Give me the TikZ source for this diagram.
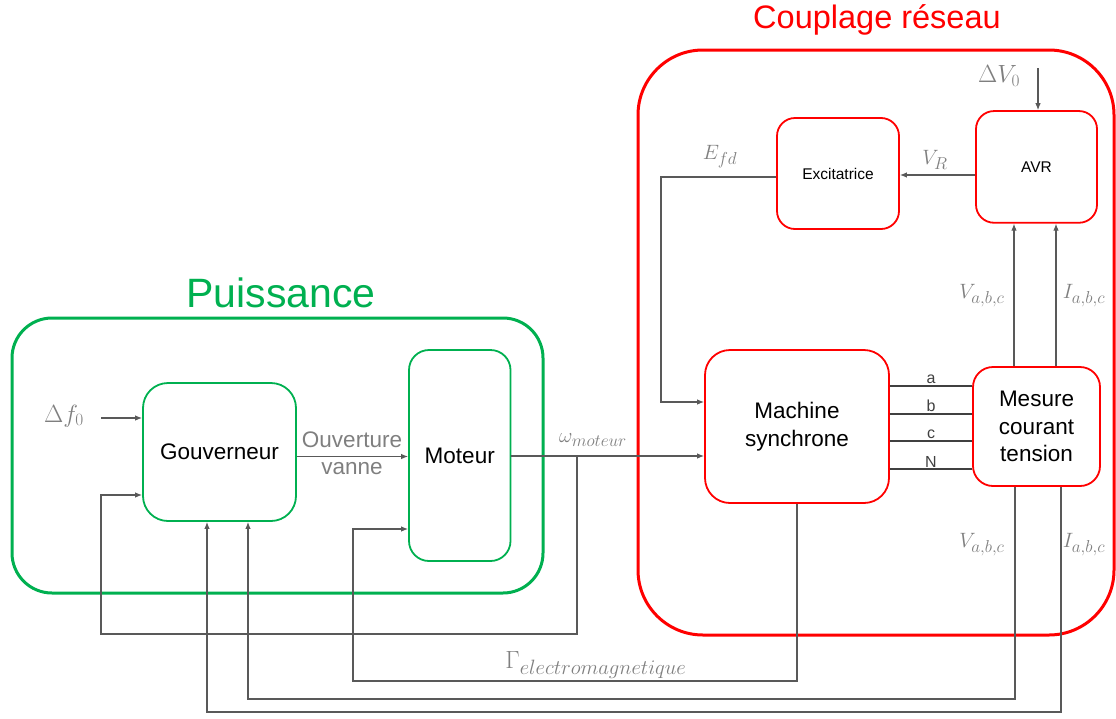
\documentclass[tikz,border=0pt]{standalone}
\usepackage{fontspec}
\setmainfont{Liberation Sans}
\usetikzlibrary{arrows.meta}
\DeclareMathSizes{21}{21}{17}{13}
\DeclareMathSizes{24}{24}{19.5}{15}
\DeclareMathSizes{26}{26}{19}{14}
\definecolor{pgreen}{HTML}{00B050}
\definecolor{pred}{HTML}{FF0000}
\definecolor{conncol}{HTML}{595959}
\definecolor{labcol}{HTML}{7F7F7F}
\tikzset{
  blk/.style={rectangle, inner sep=0pt, align=center, text=black,
    font=\fontsize{22.5}{27.5}\selectfont},
  gblk/.style={blk, draw=pgreen, line width=1.8pt},
  rblk/.style={blk, draw=pred, line width=1.8pt},
  smallblk/.style={font=\fontsize{15.5}{18}\selectfont},
  grp/.style={rectangle, inner sep=0pt, line width=3pt},
  conn/.style={draw=conncol, line width=1.1pt},
  arr/.style={conn, -{Latex[length=7pt,width=5.5pt]}},
  bus/.style={draw=black!75, line width=2pt},
  buslab/.style={midway, above=1pt, inner sep=0pt, text=black!75,
    font=\fontsize{16}{18}\selectfont},
  ml/.style={text=labcol, inner sep=0pt, font=\fontsize{21}{25}\selectfont},
  mlbig/.style={ml, font=\fontsize{26}{30}\selectfont},
  mlg/.style={ml, font=\fontsize{24}{28}\selectfont},
  tl/.style={text=labcol, inner sep=0pt, align=center,
    font=\fontsize{22.5}{27.5}\selectfont},
}
\begin{document}
\begin{tikzpicture}[x=1pt,y=-1pt]
\useasboundingbox (0,0) rectangle (1116,718);

% group frames
\node[grp, draw=pgreen, rounded corners=40pt, minimum width=531pt, minimum height=275pt] (pgrp) at (277.5,455.5) {};
\node[grp, draw=pred, rounded corners=65pt, minimum width=476pt, minimum height=585pt] (rgrp) at (876,342.5) {};

% titles
\node[anchor=base, inner sep=0pt, text=pgreen, font=\fontsize{41}{49}\selectfont] (tp) at (281,307) {Puissance};
\node[anchor=base, inner sep=0pt, text=pred, font=\fontsize{32.5}{39}\selectfont] (tc) at (877,28) {Couplage réseau};

% blocks
\node[gblk, rounded corners=25pt, minimum width=153pt, minimum height=138pt] (gouv) at (219.5,452) {Gouverneur};
\node[gblk, rounded corners=20pt, minimum width=101.5pt, minimum height=211pt] (moteur) at (459.75,455.5) {Moteur};
\node[rblk, smallblk, rounded corners=18pt, minimum width=122pt, minimum height=111pt] (exc) at (838,173.5) {Excitatrice};
\node[rblk, smallblk, rounded corners=18pt, minimum width=121pt, minimum height=111.7pt] (avr) at (1036.5,166.9) {AVR};
\node[rblk, rounded corners=25pt, minimum width=184pt, minimum height=153pt] (mach) at (797,426.5) {Machine\\synchrone};
\node[rblk, rounded corners=20pt, minimum width=127pt, minimum height=119pt] (mes) at (1036.5,426.5) {Mesure\\courant\\tension};

% helper coordinates
\coordinate (dfin) at (101,418);
\coordinate (oy) at (0,456.5);
\coordinate (wy) at (0,456);
\coordinate (wb) at (577,456);
\coordinate (wl) at (101,634);
\coordinate (g2) at (0,495);
\coordinate (gl) at (353,681);
\coordinate (m2) at (0,529);
\coordinate (vx) at (1015,0);
\coordinate (vl) at (248,699);
\coordinate (ix) at (1061,0);
\coordinate (il) at (207,712);
\coordinate (vux) at (1014,0);
\coordinate (iux) at (1056,0);
\coordinate (dv) at (1038,68);
\coordinate (vr) at (0,175);
\coordinate (ef) at (661,177);
\coordinate (m1) at (0,402);
\coordinate (ya) at (0,386);
\coordinate (yb) at (0,414);
\coordinate (yc) at (0,441);
\coordinate (yn) at (0,469);

% labels
\node[mlbig] (df) at (64,416) {$\Delta f_0$};
\node[tl] (ouv) at (352,440) {Ouverture};
\node[tl] (van) at (352,469) {vanne};
\node[ml] (wm) at (593,440) {$\omega_{moteur}$};
\node[mlg] (gam) at (596,665) {$\Gamma_{electromagnetique}$};
\node[mlbig] (dv0) at (999,76) {$\Delta V_0$};
\node[ml] (efd) at (720,157) {$E_{fd}$};
\node[ml] (vrl) at (935,160) {$V_R$};
\node[ml] (vu) at (982,296) {$V_{a,b,c}$};
\node[ml] (iu) at (1084,296) {$I_{a,b,c}$};
\node[ml] (vd) at (982,545) {$V_{a,b,c}$};
\node[ml] (id) at (1084,545) {$I_{a,b,c}$};

% connectors
\draw[arr] (dfin) -- (dfin -| gouv.west);
\draw[arr] (gouv.east |- oy) -- (moteur.west |- oy);
\draw[arr] (moteur.east |- wy) -- (mach.west |- wy);
\draw[arr] (wb) |- (wl) -- (wl |- g2) -- (gouv.west |- g2);
\draw[arr] (mach.south) |- (gl) -- (gl |- m2) -- (moteur.west |- m2);
\draw[arr] (mes.south -| vx) |- (vl) -- (vl |- gouv.south);
\draw[arr] (mes.south -| ix) |- (il) -- (il |- gouv.south);
\draw[arr] (mes.north -| vux) -- (avr.south -| vux);
\draw[arr] (mes.north -| iux) -- (avr.south -| iux);
\draw[arr] (dv) -- (dv |- avr.north);
\draw[arr] (avr.west |- vr) -- (exc.east |- vr);
\draw[arr] (exc.west |- ef) -- (ef) -- (ef |- m1) -- (mach.west |- m1);

% three-phase bus
\draw[bus] (mach.east |- ya) -- (mes.west |- ya) node[buslab] {a};
\draw[bus] (mach.east |- yb) -- (mes.west |- yb) node[buslab] {b};
\draw[bus] (mach.east |- yc) -- (mes.west |- yc) node[buslab] {c};
\draw[bus] (mach.east |- yn) -- (mes.west |- yn) node[buslab] {N};
\end{tikzpicture}
\end{document}
